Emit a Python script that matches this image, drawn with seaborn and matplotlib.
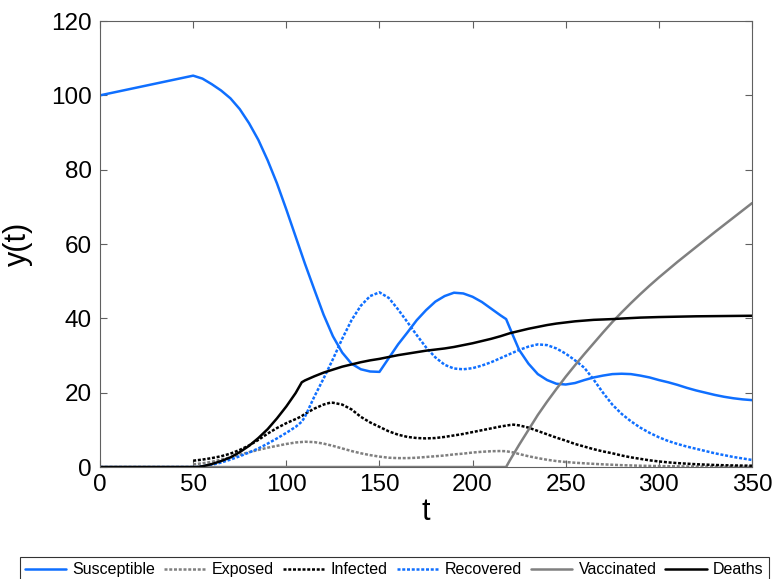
import numpy as np
import pandas as pd
import seaborn as sns
import matplotlib.pyplot as plt

# values
t_s = [0, 50, 55, 60, 65, 70, 75, 80, 85, 90, 95, 100, 105, 110, 115, 120, 125, 130, 135, 140, 145, 150,
       155, 160, 165, 170, 175, 180, 185, 190, 195, 200, 205, 210, 215, 218, 222, 225, 230, 235, 240, 245,
       250, 255, 260, 265, 270, 275, 280, 285, 290, 295, 300, 305, 310, 315, 320, 325, 330, 335, 340, 345, 350]
susceptible = [100, 105.3, 104.5, 103, 101.3, 99.2, 96.3, 92.5, 88, 82.5, 76.3, 69.3, 62, 54.7, 47.8, 41,
               35.2, 30.8, 27.8, 26.3, 25.7, 25.6, 29.3, 33, 36.2, 39.5, 42.2, 44.5, 46, 46.9, 46.7, 45.8,
               44.4, 42.6, 40.8, 39.8, 35, 31.5, 27.8, 25, 23.4, 22.4, 22.2, 22.6, 23.4, 24.1, 24.6, 25,
               25.1, 25, 24.6, 24.1, 23.4, 22.8, 22.1, 21.3, 20.6, 20, 19.4, 18.9, 18.5, 18.2, 18]

t_e = [50, 55, 60, 65, 70, 75, 80, 85, 90, 95, 100, 105, 110, 115, 120, 125, 130, 135, 140, 145, 150, 155,
       160, 165, 170, 175, 180, 185, 190, 195, 200, 205, 210, 215, 218, 222, 225, 230, 235, 240, 245, 250,
       255, 260, 265, 270, 280, 290, 300, 320, 350]
exposed = [0.7, 1.0, 1.4, 2, 2.6, 3.3, 4, 4.6, 5.2, 5.7, 6.2, 6.6, 6.8, 6.7, 6.3, 5.7, 5, 4.3, 3.7, 3.2,
           2.8, 2.5, 2.4, 2.4, 2.5, 2.7, 2.9, 3.1, 3.4, 3.6, 3.9, 4.1, 4.25, 4.3, 4.25, 3.9, 3.5, 2.9, 2.4,
           1.95, 1.6, 1.35, 1.15, 1.0, 0.85, 0.72, 0.5, 0.35, 0.25, 0.12, 0.05]

t_i = [50, 55, 60, 65, 70, 75, 80, 85, 90, 95, 100, 105, 108, 110, 115, 120, 123.5, 125, 130, 135, 140,
       145, 150, 155, 160, 165, 170, 175, 180, 185, 190, 195, 200, 205, 210, 215, 220, 222, 225, 230, 235,
       240, 245, 250, 255, 260, 265, 270, 275, 280, 285, 290, 295, 300, 305, 310, 315, 320, 325, 330, 335,
       340, 345, 350]
infected = [1.7, 2.0, 2.4, 2.9, 3.6, 4.6, 5.8, 7.3, 9, 10.5, 11.8, 12.9, 13.6, 14.3, 15.7, 16.8, 17.3, 17.3,
            16.8, 15.5, 13.5, 12, 10.8, 9.6, 8.7, 8.1, 7.8, 7.7, 7.8, 8.1, 8.5, 8.9, 9.4, 9.9, 10.4, 10.9,
            11.3, 11.4, 11.2, 10.6, 9.7, 8.8, 7.9, 7.1, 6.2, 5.5, 4.8, 4.2, 3.7, 3.1, 2.6, 2.2, 1.8, 1.5,
            1.25, 1.05, 0.9, 0.75, 0.65, 0.55, 0.48, 0.42, 0.38, 0.35]

t_r = [0, 52, 55, 60, 65, 70, 75, 80, 85, 90, 95, 100, 105, 108.3, 110, 115, 120, 125, 130, 135, 140, 145,
       150, 155, 160, 165, 170, 175, 180, 185, 190, 195, 200, 205, 210, 215, 220, 225, 230, 235, 240, 245,
       250, 255, 260, 265, 270, 275, 280, 285, 290, 295, 300, 305, 310, 315, 320, 325, 330, 335, 340, 345, 350]
recovered = [0, 0, 0.2, 0.6, 1.2, 2, 2.9, 3.9, 5, 6.3, 7.7, 9.2, 10.8, 12.2, 13.5, 18.9, 23.8, 29, 34.5,
             39.5, 43.4, 46, 47, 45.5, 42.4, 39, 35.5, 32.2, 29.5, 27.5, 26.5, 26.3, 26.6, 27.3, 28.2, 29.3,
             30.4, 31.5, 32.4, 33, 32.8, 31.9, 30.5, 28.7, 26.7, 23.5, 20, 16.8, 14.3, 12.3, 10.6, 9.2, 8.0,
             7.0, 6.2, 5.5, 4.9, 4.3, 3.7, 3.2, 2.7, 2.3, 1.9]

t_v = [0, 218, 220, 225, 230, 235, 240, 245, 250, 255, 260, 265, 270, 275, 280, 285, 290, 295, 300, 310,
       320, 330, 340, 350]
vaccinated = [0, 0, 1.8, 6, 10, 14, 17.6, 21, 24.3, 27.4, 30.4, 33.3, 36.2, 39.0, 41.6, 44.1, 46.5, 48.8,
              51.0, 55.2, 59.2, 63.2, 67.1, 71]

t_d = [0, 52, 55, 60, 65, 70, 75, 80, 85, 90, 95, 100, 105, 108.3, 110, 115, 120, 125, 130, 135, 140, 145,
       150, 155, 160, 165, 170, 175, 180, 185, 190, 195, 200, 205, 210, 215, 220, 225, 230, 235, 240, 245,
       250, 255, 260, 265, 270, 275, 280, 290, 300, 310, 320, 330, 340, 350]
deaths = [0, 0, 0.2, 0.8, 1.6, 2.6, 4, 5.7, 7.8, 10.2, 13.1, 16.3, 19.9, 22.8, 23.3, 24.4, 25.4, 26.2, 27,
          27.6, 28.2, 28.7, 29.1, 29.6, 30.1, 30.5, 30.9, 31.3, 31.6, 31.9, 32.3, 32.8, 33.3, 33.9, 34.5,
          35.2, 36, 36.6, 37.2, 37.7, 38.2, 38.6, 38.9, 39.2, 39.4, 39.6, 39.7, 39.8, 39.95, 40.2, 40.35,
          40.45, 40.55, 40.6, 40.65, 40.7]

BLUE = '#0f6fff'
GRAY = '#808080'
dot = (0, (1.2, 0.7))

series = [
    ('Susceptible', t_s, susceptible, BLUE, '-'),
    ('Exposed', t_e, exposed, GRAY, dot),
    ('Infected', t_i, infected, 'black', dot),
    ('Recovered', t_r, recovered, BLUE, dot),
    ('Vaccinated', t_v, vaccinated, GRAY, '-'),
    ('Deaths', t_d, deaths, 'black', '-'),
]

sns.set_style('white')
plt.rcParams['font.family'] = ['Liberation Sans', 'DejaVu Sans']
plt.rcParams['text.color'] = 'black'
plt.rcParams['axes.labelcolor'] = 'black'

fig = plt.figure(figsize=(7.76, 5.79), dpi=100)
ax = fig.add_axes([0.1289, 0.1934, 0.8402, 0.7703])

for name, tt, yy, col, ls in series:
    df = pd.DataFrame({'t': tt, 'y': yy})
    sns.lineplot(data=df, x='t', y='y', ax=ax, color=col, linestyle=ls, linewidth=1.8,
                 label=name, sort=False)

ax.set_xlim(0, 350)
ax.set_ylim(0, 120)
ax.set_xticks(np.arange(0, 351, 50))
ax.set_yticks(np.arange(0, 121, 20))
ax.tick_params(direction='in', length=5, width=0.8, color='#606060', labelcolor='black',
               labelsize=17.5, top=True, right=True, bottom=True, left=True)
ax.tick_params(axis='x', pad=5)
ax.tick_params(axis='y', pad=6)
for sp in ax.spines.values():
    sp.set_color('#606060')
    sp.set_linewidth(0.8)
ax.set_xlabel('t', fontsize=22, labelpad=1)
ax.set_ylabel('y(t)', fontsize=22, labelpad=13)

ax.get_legend().remove()
h, l = ax.get_legend_handles_labels()
leg = fig.legend(h, l, loc='lower center', bbox_to_anchor=(0.508, -0.005), ncol=6, fontsize=11.5,
                 frameon=True, fancybox=False, edgecolor='black', handlelength=2.6, handletextpad=0.4,
                 columnspacing=0.55, borderpad=0.3, borderaxespad=0)
leg.get_frame().set_linewidth(0.8)

fig.savefig('out.png', dpi=100)
